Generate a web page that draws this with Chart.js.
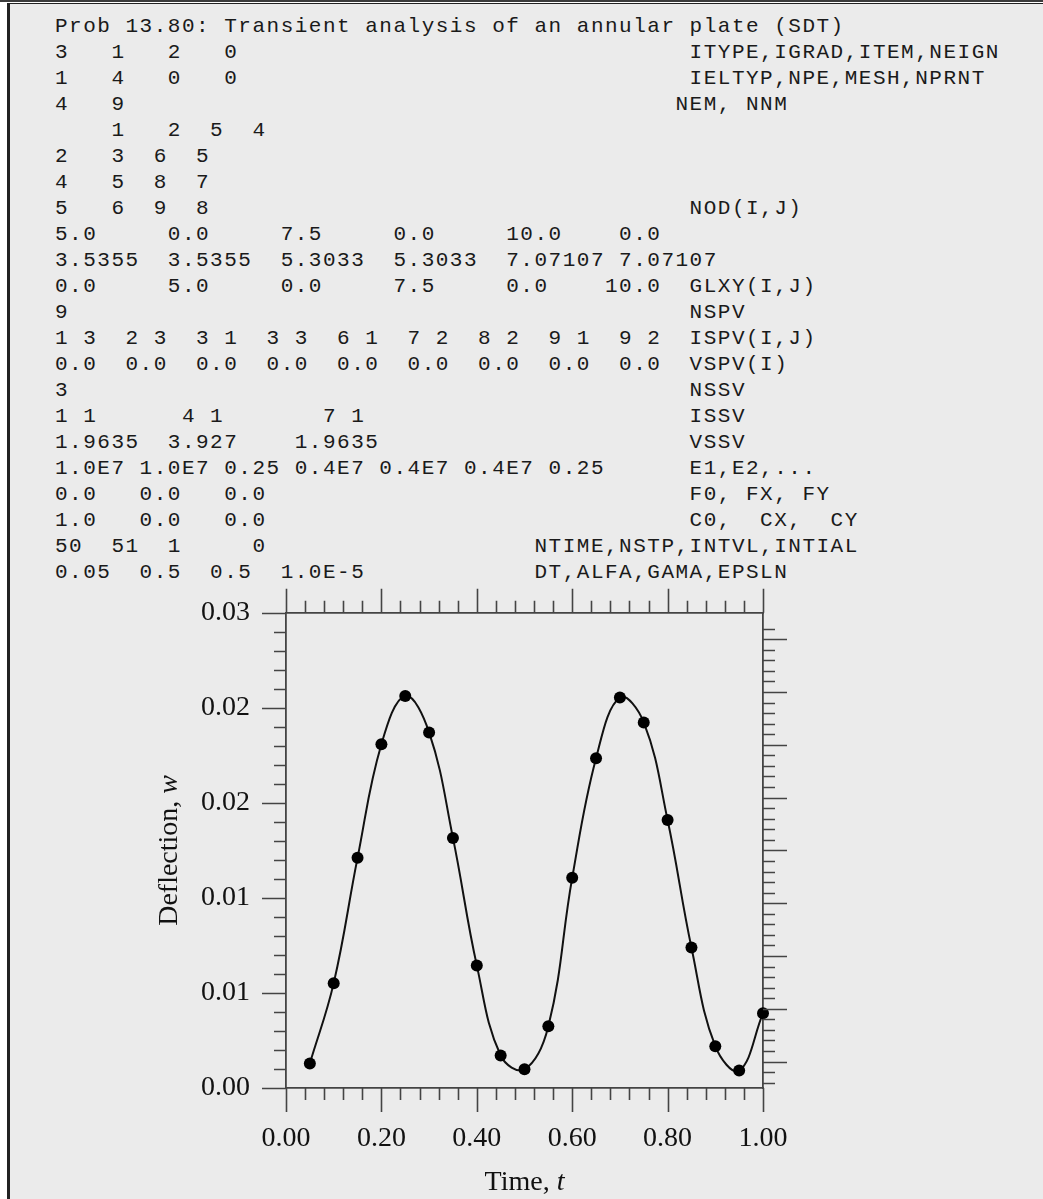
<!DOCTYPE html>
<html>
<head>
<meta charset="utf-8">
<title>Prob 13.80 - annular plate, transient deflection</title>
<script src="https://cdn.jsdelivr.net/npm/chart.js@4.4.1/dist/chart.umd.min.js"></script>
<style>
html, body { margin: 0; padding: 0; background: #fff; width: 1043px; height: 1199px; overflow: hidden; }
#rule { position: absolute; left: 0; top: 0; width: 1043px; height: 2px; background: #3c3c3c; }
#frame { position: absolute; left: 7px; top: 3px; width: 1060px; height: 1220px;
         border-top: 1.5px solid #222; border-left: 3px solid #222; background: #ebebeb; }
#input { position: absolute; left: 55px; top: 14px; margin: 0;
         font-family: "Liberation Mono", monospace; font-size: 21px; letter-spacing: 1.5px;
         line-height: 26px; color: #1a1a1a; }
#plot { position: absolute; left: 0; top: 560px; }
</style>
</head>
<body>
<div id="rule"></div>
<div id="frame"></div>
<pre id="input"></pre>
<canvas id="plot" width="1043" height="639"></canvas>
<script>
// input deck listing: [data part, comment column, comment]
const inputLines = [
    ["Prob 13.80: Transient analysis of an annular plate (SDT)", 0, ""],
    ["3   1   2   0", 45, "ITYPE,IGRAD,ITEM,NEIGN"],
    ["1   4   0   0", 45, "IELTYP,NPE,MESH,NPRNT"],
    ["4   9", 44, "NEM, NNM"],
    ["    1   2  5  4", 0, ""],
    ["2   3  6  5", 0, ""],
    ["4   5  8  7", 0, ""],
    ["5   6  9  8", 45, "NOD(I,J)"],
    ["5.0     0.0     7.5     0.0     10.0    0.0", 0, ""],
    ["3.5355  3.5355  5.3033  5.3033  7.07107 7.07107", 0, ""],
    ["0.0     5.0     0.0     7.5     0.0    10.0", 45, "GLXY(I,J)"],
    ["9", 45, "NSPV"],
    ["1 3  2 3  3 1  3 3  6 1  7 2  8 2  9 1  9 2", 45, "ISPV(I,J)"],
    ["0.0  0.0  0.0  0.0  0.0  0.0  0.0  0.0  0.0", 45, "VSPV(I)"],
    ["3", 45, "NSSV"],
    ["1 1      4 1       7 1", 45, "ISSV"],
    ["1.9635  3.927    1.9635", 45, "VSSV"],
    ["1.0E7 1.0E7 0.25 0.4E7 0.4E7 0.4E7 0.25", 45, "E1,E2,..."],
    ["0.0   0.0   0.0", 45, "F0, FX, FY"],
    ["1.0   0.0   0.0", 45, "C0,  CX,  CY"],
    ["50  51  1     0", 34, "NTIME,NSTP,INTVL,INTIAL"],
    ["0.05  0.5  0.5  1.0E-5", 34, "DT,ALFA,GAMA,EPSLN"]
];

// deflection w at the monitored node vs time t
const timeValues = [0.05, 0.10, 0.15, 0.20, 0.25, 0.30, 0.35, 0.40, 0.45, 0.50,
                    0.55, 0.60, 0.65, 0.70, 0.75, 0.80, 0.85, 0.90, 0.95, 1.00];
const deflection = [0.00155, 0.00662, 0.01453, 0.02170, 0.02475, 0.02245, 0.01579, 0.00774, 0.00205, 0.00118,
                    0.00390, 0.01327, 0.02082, 0.02465, 0.02308, 0.01692, 0.00887, 0.00264, 0.00110, 0.00472];

const xTickValues = [0, 0.2, 0.4, 0.6, 0.8, 1.0];
const xTickLabels = ["0.00", "0.20", "0.40", "0.60", "0.80", "1.00"];
const yTickValues = [0, 0.006, 0.012, 0.018, 0.024, 0.03];
const yTickLabels = ["0.00", "0.01", "0.01", "0.02", "0.02", "0.03"];

const axisColor = "#444";
const textColor = "#111";
const serif = "'Liberation Serif', 'Times New Roman', serif";

document.getElementById("input").textContent = inputLines.map(line => {
    const [data, col, note] = line;
    if (!note) return data;
    return data.padEnd(col, " ") + note;
}).join("\n");

// tick marks: long at labelled values, short in between, all pointing outward
const tickMarks = {
    id: "tickMarks",
    afterDraw(chart)
    {
        const { ctx, chartArea: a, scales } = chart;
        ctx.save();
        ctx.strokeStyle = axisColor;
        ctx.lineWidth = 1.6;
        ctx.beginPath();

        // time axis, bottom and top: every 0.04, long every 0.2
        for (let i = 0; i <= 25; i++)
        {
            const px = Math.round(scales.x.getPixelForValue(i * 0.04)) + 0.5;
            const len = i % 5 === 0 ? 24 : 12;
            ctx.moveTo(px, a.bottom); ctx.lineTo(px, a.bottom + len);
            ctx.moveTo(px, a.top); ctx.lineTo(px, a.top - len);
        }
        // deflection axis, left: every 0.0012, long every 0.006
        for (let i = 0; i <= 25; i++)
        {
            const py = Math.round(scales.y.getPixelForValue(i * 0.0012)) + 0.5;
            const len = i % 5 === 0 ? 24 : 12;
            ctx.moveTo(a.left, py); ctx.lineTo(a.left - len, py);
        }
        // right axis
        for (let i = 0; i <= 43; i++)
        {
            const py = Math.round(scales.yRight.getPixelForValue(0.1 + 0.2 * i)) + 0.5;
            const len = (i - 2) % 5 === 0 ? 24 : 12;
            ctx.moveTo(a.right, py); ctx.lineTo(a.right + len, py);
        }
        ctx.stroke();
        ctx.restore();
    }
};

// axis titles with an italic symbol
function drawMixed(ctx, plain, symbol, size)
{
    const upright = size + "px " + serif;
    const italic = "italic " + size + "px " + serif;
    ctx.font = upright;
    const w1 = ctx.measureText(plain).width;
    ctx.font = italic;
    const w2 = ctx.measureText(symbol).width;
    const start = -(w1 + w2) / 2;
    ctx.textAlign = "left";
    ctx.textBaseline = "middle";
    ctx.font = upright;
    ctx.fillText(plain, start, 0);
    ctx.font = italic;
    ctx.fillText(symbol, start + w1, 0);
}

const axisTitles = {
    id: "axisTitles",
    afterDraw(chart)
    {
        const { ctx, chartArea: a } = chart;
        ctx.save();
        ctx.fillStyle = textColor;
        ctx.translate((a.left + a.right) / 2, a.bottom + 95);
        drawMixed(ctx, "Time, ", "t", 28);
        ctx.restore();

        ctx.save();
        ctx.fillStyle = textColor;
        ctx.translate(170, (a.top + a.bottom) / 2);
        ctx.rotate(-Math.PI / 2);
        drawMixed(ctx, "Deflection, ", "w", 28);
        ctx.restore();
    }
};

const border = { display: true, color: axisColor, width: 1.8 };

new Chart(document.getElementById("plot").getContext("2d"), {
    type: "line",
    data: {
        datasets: [{
            data: timeValues.map((t, i) => ({ x: t, y: deflection[i] })),
            borderColor: "#111",
            borderWidth: 2,
            tension: 0.4,
            pointRadius: 6,
            pointBackgroundColor: "#000",
            pointBorderWidth: 0,
            clip: false
        }]
    },
    options: {
        responsive: false,
        animation: false,
        devicePixelRatio: 1,
        layout: { padding: { left: 140, right: 250, top: 21, bottom: 11 } },
        plugins: { legend: { display: false }, tooltip: { enabled: false } },
        scales: {
            x: {
                type: "linear",
                position: "bottom",
                min: 0, max: 1,
                afterBuildTicks: s => { s.ticks = xTickValues.map(v => ({ value: v })); },
                afterFit: s => { s.height = 100; },
                ticks: {
                    callback: (v, i) => xTickLabels[i],
                    color: textColor,
                    font: { family: serif, size: 28 },
                    padding: 34,
                    maxRotation: 0,
                    autoSkip: false
                },
                grid: { display: false, drawTicks: false },
                border: border
            },
            y: {
                type: "linear",
                position: "left",
                min: 0, max: 0.03,
                afterBuildTicks: s => { s.ticks = yTickValues.map(v => ({ value: v })); },
                afterFit: s => { s.width = 146; },
                ticks: {
                    callback: (v, i) => yTickLabels[i],
                    color: textColor,
                    font: { family: serif, size: 28 },
                    padding: 36,
                    autoSkip: false
                },
                grid: { display: false, drawTicks: false },
                border: border
            },
            xTop: {
                type: "linear",
                position: "top",
                min: 0, max: 1,
                afterFit: s => { s.height = 30; },
                ticks: { display: false },
                grid: { display: false, drawTicks: false },
                border: border
            },
            yRight: {
                type: "linear",
                position: "right",
                min: 0, max: 9,
                afterFit: s => { s.width = 30; },
                ticks: { display: false },
                grid: { display: false, drawTicks: false },
                border: border
            }
        }
    },
    plugins: [tickMarks, axisTitles]
});
</script>
</body>
</html>
